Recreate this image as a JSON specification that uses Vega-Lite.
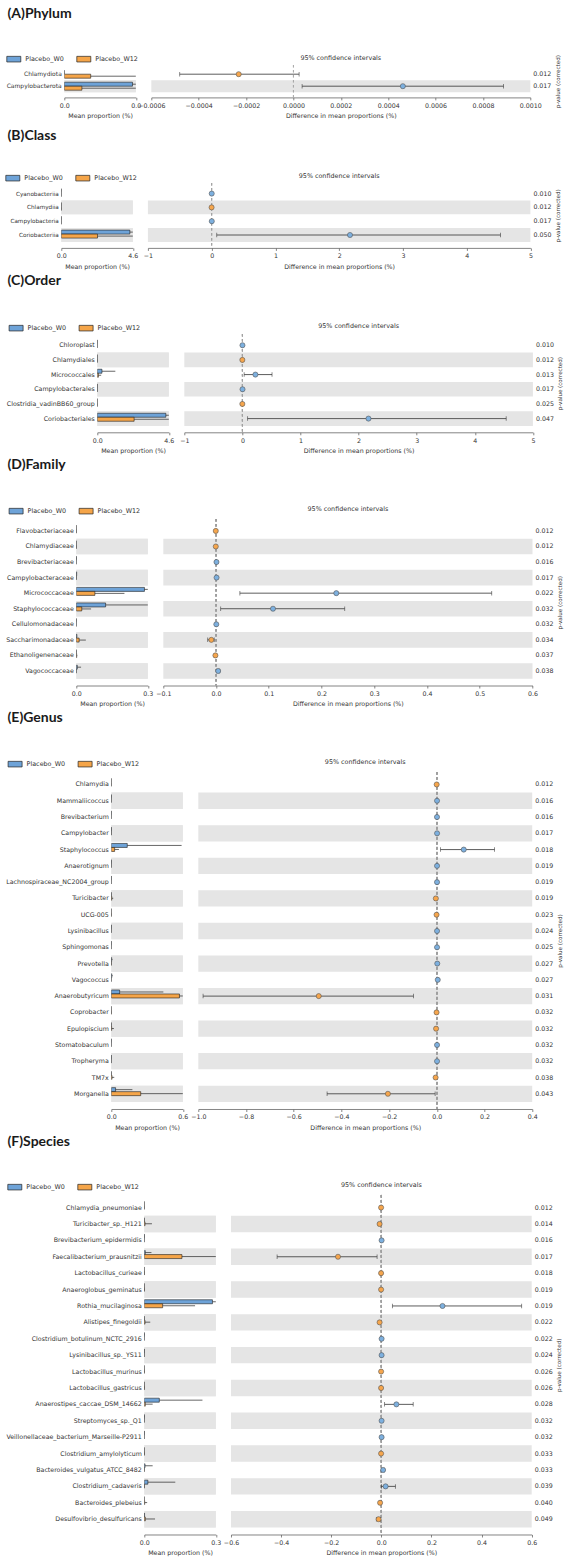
{
"$schema": "https://vega.github.io/schema/vega-lite/v6.json",
"padding": {"left": 3.3, "top": 7, "right": 2, "bottom": 2},
"background": "white",
"config": {
 "font": "DejaVu Sans",
 "view": {"stroke": null},
 "axis": {"labelFont": "DejaVu Sans", "labelFontSize": 6.3, "labelColor": "#333333", "titleFont": "DejaVu Sans", "titleFontSize": 6.3, "titleFontWeight": "normal", "titleColor": "#333333", "domainColor": "#666666", "domainWidth": 0.8, "tickColor": "#666666", "tickWidth": 0.8, "tickSize": 2.5, "labelPadding": 2.4, "titlePadding": 4, "grid": false, "labelFlush": false, "labelOverlap": false},
 "axisLeft": {"ticks": false, "domain": false, "labelPadding": 3},
 "axisRight": {"labels": false, "ticks": false, "domain": false, "titleAngle": 270, "titlePadding": 30, "titleFontSize": 5.6},
 "legend": {"labelFont": "DejaVu Sans", "labelFontSize": 6.4, "labelColor": "#333333", "symbolType": "M-1,-0.4H1V0.4H-1Z", "symbolSize": 196, "symbolStrokeColor": "#222222", "symbolStrokeWidth": 0.7, "labelOffset": 4, "columnPadding": 11, "symbolOpacity": 1},
 "title": {"font": "Lato", "fontSize": 14, "fontWeight": "bold", "anchor": "start", "color": "#1a1a1a", "frame": "bounds", "dx": 3.7}
},
"datasets": {
 "bars": [
  {"panel":"A","feature":"Chlamydiota","rank":1,"group":"Placebo_W0","mean":0,"upper":0},
  {"panel":"A","feature":"Chlamydiota","rank":1,"group":"Placebo_W12","mean":0.00024,"upper":0.001},
  {"panel":"A","feature":"Campylobacterota","rank":2,"group":"Placebo_W0","mean":0.00062,"upper":0.002},
  {"panel":"A","feature":"Campylobacterota","rank":2,"group":"Placebo_W12","mean":0.00016,"upper":0.002},

  {"panel":"B","feature":"Cyanobacteriia","rank":1,"group":"Placebo_W0","mean":0.003,"upper":0.01},
  {"panel":"B","feature":"Cyanobacteriia","rank":1,"group":"Placebo_W12","mean":0,"upper":0},
  {"panel":"B","feature":"Chlamydiia","rank":2,"group":"Placebo_W0","mean":0,"upper":0},
  {"panel":"B","feature":"Chlamydiia","rank":2,"group":"Placebo_W12","mean":0.003,"upper":0.01},
  {"panel":"B","feature":"Campylobacteria","rank":3,"group":"Placebo_W0","mean":0.004,"upper":0.01},
  {"panel":"B","feature":"Campylobacteria","rank":3,"group":"Placebo_W12","mean":0.001,"upper":0.002},
  {"panel":"B","feature":"Coriobacteriia","rank":4,"group":"Placebo_W0","mean":4.41,"upper":9},
  {"panel":"B","feature":"Coriobacteriia","rank":4,"group":"Placebo_W12","mean":2.33,"upper":9},

  {"panel":"C","feature":"Chloroplast","rank":1,"group":"Placebo_W0","mean":0.003,"upper":0.01},
  {"panel":"C","feature":"Chloroplast","rank":1,"group":"Placebo_W12","mean":0,"upper":0},
  {"panel":"C","feature":"Chlamydiales","rank":2,"group":"Placebo_W0","mean":0,"upper":0},
  {"panel":"C","feature":"Chlamydiales","rank":2,"group":"Placebo_W12","mean":0.003,"upper":0.01},
  {"panel":"C","feature":"Micrococcales","rank":3,"group":"Placebo_W0","mean":0.30,"upper":1.16},
  {"panel":"C","feature":"Micrococcales","rank":3,"group":"Placebo_W12","mean":0.07,"upper":0.25},
  {"panel":"C","feature":"Campylobacterales","rank":4,"group":"Placebo_W0","mean":0.004,"upper":0.01},
  {"panel":"C","feature":"Campylobacterales","rank":4,"group":"Placebo_W12","mean":0.001,"upper":0.002},
  {"panel":"C","feature":"Clostridia_vadinBB60_group","rank":5,"group":"Placebo_W0","mean":0,"upper":0},
  {"panel":"C","feature":"Clostridia_vadinBB60_group","rank":5,"group":"Placebo_W12","mean":0.003,"upper":0.01},
  {"panel":"C","feature":"Coriobacteriales","rank":6,"group":"Placebo_W0","mean":4.41,"upper":9},
  {"panel":"C","feature":"Coriobacteriales","rank":6,"group":"Placebo_W12","mean":2.37,"upper":9},

  {"panel":"D","feature":"Flavobacteriaceae","rank":1,"group":"Placebo_W0","mean":0,"upper":0},
  {"panel":"D","feature":"Flavobacteriaceae","rank":1,"group":"Placebo_W12","mean":0.0005,"upper":0.001},
  {"panel":"D","feature":"Chlamydiaceae","rank":2,"group":"Placebo_W0","mean":0,"upper":0},
  {"panel":"D","feature":"Chlamydiaceae","rank":2,"group":"Placebo_W12","mean":0.0005,"upper":0.001},
  {"panel":"D","feature":"Brevibacteriaceae","rank":3,"group":"Placebo_W0","mean":0.0008,"upper":0.002},
  {"panel":"D","feature":"Brevibacteriaceae","rank":3,"group":"Placebo_W12","mean":0,"upper":0},
  {"panel":"D","feature":"Campylobacteraceae","rank":4,"group":"Placebo_W0","mean":0.0015,"upper":0.003},
  {"panel":"D","feature":"Campylobacteraceae","rank":4,"group":"Placebo_W12","mean":0.0004,"upper":0.001},
  {"panel":"D","feature":"Micrococcaceae","rank":5,"group":"Placebo_W0","mean":0.286,"upper":0.6},
  {"panel":"D","feature":"Micrococcaceae","rank":5,"group":"Placebo_W12","mean":0.078,"upper":0.202},
  {"panel":"D","feature":"Staphylococcaceae","rank":6,"group":"Placebo_W0","mean":0.123,"upper":0.6},
  {"panel":"D","feature":"Staphylococcaceae","rank":6,"group":"Placebo_W12","mean":0.023,"upper":0.062},
  {"panel":"D","feature":"Cellulomonadaceae","rank":7,"group":"Placebo_W0","mean":0.0005,"upper":0.001},
  {"panel":"D","feature":"Cellulomonadaceae","rank":7,"group":"Placebo_W12","mean":0,"upper":0},
  {"panel":"D","feature":"Saccharimonadaceae","rank":8,"group":"Placebo_W0","mean":0.002,"upper":0.004},
  {"panel":"D","feature":"Saccharimonadaceae","rank":8,"group":"Placebo_W12","mean":0.012,"upper":0.04},
  {"panel":"D","feature":"Ethanoligenenaceae","rank":9,"group":"Placebo_W0","mean":0.0003,"upper":0.001},
  {"panel":"D","feature":"Ethanoligenenaceae","rank":9,"group":"Placebo_W12","mean":0.0015,"upper":0.004},
  {"panel":"D","feature":"Vagococcaceae","rank":10,"group":"Placebo_W0","mean":0.004,"upper":0.02},
  {"panel":"D","feature":"Vagococcaceae","rank":10,"group":"Placebo_W12","mean":0,"upper":0},

  {"panel":"E","feature":"Chlamydia","rank":1,"group":"Placebo_W0","mean":0,"upper":0},
  {"panel":"E","feature":"Chlamydia","rank":1,"group":"Placebo_W12","mean":0.0005,"upper":0.001},
  {"panel":"E","feature":"Mammaliicoccus","rank":2,"group":"Placebo_W0","mean":0.001,"upper":0.002},
  {"panel":"E","feature":"Mammaliicoccus","rank":2,"group":"Placebo_W12","mean":0,"upper":0},
  {"panel":"E","feature":"Brevibacterium","rank":3,"group":"Placebo_W0","mean":0.0008,"upper":0.002},
  {"panel":"E","feature":"Brevibacterium","rank":3,"group":"Placebo_W12","mean":0,"upper":0},
  {"panel":"E","feature":"Campylobacter","rank":4,"group":"Placebo_W0","mean":0.0015,"upper":0.003},
  {"panel":"E","feature":"Campylobacter","rank":4,"group":"Placebo_W12","mean":0.0003,"upper":0.001},
  {"panel":"E","feature":"Staphylococcus","rank":5,"group":"Placebo_W0","mean":0.134,"upper":0.59},
  {"panel":"E","feature":"Staphylococcus","rank":5,"group":"Placebo_W12","mean":0.028,"upper":0.064},
  {"panel":"E","feature":"Anaerotignum","rank":6,"group":"Placebo_W0","mean":0.001,"upper":0.002},
  {"panel":"E","feature":"Anaerotignum","rank":6,"group":"Placebo_W12","mean":0,"upper":0},
  {"panel":"E","feature":"Lachnospiraceae_NC2004_group","rank":7,"group":"Placebo_W0","mean":0.001,"upper":0.002},
  {"panel":"E","feature":"Lachnospiraceae_NC2004_group","rank":7,"group":"Placebo_W12","mean":0,"upper":0},
  {"panel":"E","feature":"Turicibacter","rank":8,"group":"Placebo_W0","mean":0.0005,"upper":0.001},
  {"panel":"E","feature":"Turicibacter","rank":8,"group":"Placebo_W12","mean":0.004,"upper":0.016},
  {"panel":"E","feature":"UCG-005","rank":9,"group":"Placebo_W0","mean":0,"upper":0},
  {"panel":"E","feature":"UCG-005","rank":9,"group":"Placebo_W12","mean":0.001,"upper":0.002},
  {"panel":"E","feature":"Lysinibacillus","rank":10,"group":"Placebo_W0","mean":0.001,"upper":0.002},
  {"panel":"E","feature":"Lysinibacillus","rank":10,"group":"Placebo_W12","mean":0,"upper":0},
  {"panel":"E","feature":"Sphingomonas","rank":11,"group":"Placebo_W0","mean":0.001,"upper":0.002},
  {"panel":"E","feature":"Sphingomonas","rank":11,"group":"Placebo_W12","mean":0,"upper":0},
  {"panel":"E","feature":"Prevotella","rank":12,"group":"Placebo_W0","mean":0.003,"upper":0.01},
  {"panel":"E","feature":"Prevotella","rank":12,"group":"Placebo_W12","mean":0.001,"upper":0.002},
  {"panel":"E","feature":"Vagococcus","rank":13,"group":"Placebo_W0","mean":0.004,"upper":0.012},
  {"panel":"E","feature":"Vagococcus","rank":13,"group":"Placebo_W12","mean":0,"upper":0},
  {"panel":"E","feature":"Anaerobutyricum","rank":14,"group":"Placebo_W0","mean":0.07,"upper":0.437},
  {"panel":"E","feature":"Anaerobutyricum","rank":14,"group":"Placebo_W12","mean":0.572,"upper":0.7},
  {"panel":"E","feature":"Coprobacter","rank":15,"group":"Placebo_W0","mean":0,"upper":0},
  {"panel":"E","feature":"Coprobacter","rank":15,"group":"Placebo_W12","mean":0.001,"upper":0.002},
  {"panel":"E","feature":"Epulopiscium","rank":16,"group":"Placebo_W0","mean":0.0005,"upper":0.001},
  {"panel":"E","feature":"Epulopiscium","rank":16,"group":"Placebo_W12","mean":0.003,"upper":0.022},
  {"panel":"E","feature":"Stomatobaculum","rank":17,"group":"Placebo_W0","mean":0.001,"upper":0.002},
  {"panel":"E","feature":"Stomatobaculum","rank":17,"group":"Placebo_W12","mean":0,"upper":0},
  {"panel":"E","feature":"Tropheryma","rank":18,"group":"Placebo_W0","mean":0.001,"upper":0.002},
  {"panel":"E","feature":"Tropheryma","rank":18,"group":"Placebo_W12","mean":0,"upper":0},
  {"panel":"E","feature":"TM7x","rank":19,"group":"Placebo_W0","mean":0.001,"upper":0.002},
  {"panel":"E","feature":"TM7x","rank":19,"group":"Placebo_W12","mean":0.006,"upper":0.025},
  {"panel":"E","feature":"Morganella","rank":20,"group":"Placebo_W0","mean":0.036,"upper":0.177},
  {"panel":"E","feature":"Morganella","rank":20,"group":"Placebo_W12","mean":0.247,"upper":0.7},

  {"panel":"F","feature":"Chlamydia_pneumoniae","rank":1,"group":"Placebo_W0","mean":0,"upper":0},
  {"panel":"F","feature":"Chlamydia_pneumoniae","rank":1,"group":"Placebo_W12","mean":0.0005,"upper":0.001},
  {"panel":"F","feature":"Turicibacter_sp._H121","rank":2,"group":"Placebo_W0","mean":0.0003,"upper":0.001},
  {"panel":"F","feature":"Turicibacter_sp._H121","rank":2,"group":"Placebo_W12","mean":0.003,"upper":0.032},
  {"panel":"F","feature":"Brevibacterium_epidermidis","rank":3,"group":"Placebo_W0","mean":0.0008,"upper":0.002},
  {"panel":"F","feature":"Brevibacterium_epidermidis","rank":3,"group":"Placebo_W12","mean":0,"upper":0},
  {"panel":"F","feature":"Faecalibacterium_prausnitzii","rank":4,"group":"Placebo_W0","mean":0.004,"upper":0.03},
  {"panel":"F","feature":"Faecalibacterium_prausnitzii","rank":4,"group":"Placebo_W12","mean":0.158,"upper":0.5},
  {"panel":"F","feature":"Lactobacillus_curieae","rank":5,"group":"Placebo_W0","mean":0,"upper":0},
  {"panel":"F","feature":"Lactobacillus_curieae","rank":5,"group":"Placebo_W12","mean":0.0008,"upper":0.002},
  {"panel":"F","feature":"Anaeroglobus_geminatus","rank":6,"group":"Placebo_W0","mean":0,"upper":0},
  {"panel":"F","feature":"Anaeroglobus_geminatus","rank":6,"group":"Placebo_W12","mean":0.0008,"upper":0.002},
  {"panel":"F","feature":"Rothia_mucilaginosa","rank":7,"group":"Placebo_W0","mean":0.286,"upper":0.5},
  {"panel":"F","feature":"Rothia_mucilaginosa","rank":7,"group":"Placebo_W12","mean":0.077,"upper":0.213},
  {"panel":"F","feature":"Alistipes_finegoldii","rank":8,"group":"Placebo_W0","mean":0.0003,"upper":0.001},
  {"panel":"F","feature":"Alistipes_finegoldii","rank":8,"group":"Placebo_W12","mean":0.003,"upper":0.025},
  {"panel":"F","feature":"Clostridium_botulinum_NCTC_2916","rank":9,"group":"Placebo_W0","mean":0.0008,"upper":0.002},
  {"panel":"F","feature":"Clostridium_botulinum_NCTC_2916","rank":9,"group":"Placebo_W12","mean":0,"upper":0},
  {"panel":"F","feature":"Lysinibacillus_sp._YS11","rank":10,"group":"Placebo_W0","mean":0.0008,"upper":0.002},
  {"panel":"F","feature":"Lysinibacillus_sp._YS11","rank":10,"group":"Placebo_W12","mean":0,"upper":0},
  {"panel":"F","feature":"Lactobacillus_murinus","rank":11,"group":"Placebo_W0","mean":0,"upper":0},
  {"panel":"F","feature":"Lactobacillus_murinus","rank":11,"group":"Placebo_W12","mean":0.0008,"upper":0.002},
  {"panel":"F","feature":"Lactobacillus_gastricus","rank":12,"group":"Placebo_W0","mean":0,"upper":0},
  {"panel":"F","feature":"Lactobacillus_gastricus","rank":12,"group":"Placebo_W12","mean":0.0008,"upper":0.002},
  {"panel":"F","feature":"Anaerostipes_caccae_DSM_14662","rank":13,"group":"Placebo_W0","mean":0.063,"upper":0.244},
  {"panel":"F","feature":"Anaerostipes_caccae_DSM_14662","rank":13,"group":"Placebo_W12","mean":0.004,"upper":0.035},
  {"panel":"F","feature":"Streptomyces_sp._Q1","rank":14,"group":"Placebo_W0","mean":0.0008,"upper":0.002},
  {"panel":"F","feature":"Streptomyces_sp._Q1","rank":14,"group":"Placebo_W12","mean":0,"upper":0},
  {"panel":"F","feature":"Veillonellaceae_bacterium_Marseille-P2911","rank":15,"group":"Placebo_W0","mean":0.0008,"upper":0.002},
  {"panel":"F","feature":"Veillonellaceae_bacterium_Marseille-P2911","rank":15,"group":"Placebo_W12","mean":0,"upper":0},
  {"panel":"F","feature":"Clostridium_amylolyticum","rank":16,"group":"Placebo_W0","mean":0,"upper":0},
  {"panel":"F","feature":"Clostridium_amylolyticum","rank":16,"group":"Placebo_W12","mean":0.0008,"upper":0.002},
  {"panel":"F","feature":"Bacteroides_vulgatus_ATCC_8482","rank":17,"group":"Placebo_W0","mean":0.003,"upper":0.035},
  {"panel":"F","feature":"Bacteroides_vulgatus_ATCC_8482","rank":17,"group":"Placebo_W12","mean":0.0003,"upper":0.001},
  {"panel":"F","feature":"Clostridium_cadaveris","rank":18,"group":"Placebo_W0","mean":0.015,"upper":0.13},
  {"panel":"F","feature":"Clostridium_cadaveris","rank":18,"group":"Placebo_W12","mean":0.0005,"upper":0.001},
  {"panel":"F","feature":"Bacteroides_plebeius","rank":19,"group":"Placebo_W0","mean":0,"upper":0},
  {"panel":"F","feature":"Bacteroides_plebeius","rank":19,"group":"Placebo_W12","mean":0.0015,"upper":0.012},
  {"panel":"F","feature":"Desulfovibrio_desulfuricans","rank":20,"group":"Placebo_W0","mean":0.001,"upper":0.002},
  {"panel":"F","feature":"Desulfovibrio_desulfuricans","rank":20,"group":"Placebo_W12","mean":0.004,"upper":0.045}
 ],
 "ci": [
  {"panel":"A","feature":"Chlamydiota","rank":1,"diff":-0.000231,"lo":-0.00048,"hi":0.000024,"higher":"Placebo_W12","p":"0.012"},
  {"panel":"A","feature":"Campylobacterota","rank":2,"diff":0.000462,"lo":0.0000366,"hi":0.000887,"higher":"Placebo_W0","p":"0.017"},

  {"panel":"B","feature":"Cyanobacteriia","rank":1,"diff":0.001,"lo":0.0005,"hi":0.002,"higher":"Placebo_W0","p":"0.010"},
  {"panel":"B","feature":"Chlamydiia","rank":2,"diff":-0.001,"lo":-0.002,"hi":-0.0005,"higher":"Placebo_W12","p":"0.012"},
  {"panel":"B","feature":"Campylobacteria","rank":3,"diff":0.002,"lo":0.001,"hi":0.004,"higher":"Placebo_W0","p":"0.017"},
  {"panel":"B","feature":"Coriobacteriia","rank":4,"diff":2.17,"lo":0.08,"hi":4.53,"higher":"Placebo_W0","p":"0.050"},

  {"panel":"C","feature":"Chloroplast","rank":1,"diff":0.001,"lo":0.0005,"hi":0.002,"higher":"Placebo_W0","p":"0.010"},
  {"panel":"C","feature":"Chlamydiales","rank":2,"diff":-0.001,"lo":-0.002,"hi":-0.0005,"higher":"Placebo_W12","p":"0.012"},
  {"panel":"C","feature":"Micrococcales","rank":3,"diff":0.224,"lo":0.03,"hi":0.51,"higher":"Placebo_W0","p":"0.013"},
  {"panel":"C","feature":"Campylobacterales","rank":4,"diff":0.002,"lo":0.001,"hi":0.004,"higher":"Placebo_W0","p":"0.017"},
  {"panel":"C","feature":"Clostridia_vadinBB60_group","rank":5,"diff":-0.001,"lo":-0.002,"hi":-0.0005,"higher":"Placebo_W12","p":"0.025"},
  {"panel":"C","feature":"Coriobacteriales","rank":6,"diff":2.17,"lo":0.09,"hi":4.54,"higher":"Placebo_W0","p":"0.047"},

  {"panel":"D","feature":"Flavobacteriaceae","rank":1,"diff":-0.0005,"lo":-0.001,"hi":0,"higher":"Placebo_W12","p":"0.012"},
  {"panel":"D","feature":"Chlamydiaceae","rank":2,"diff":-0.0005,"lo":-0.001,"hi":0,"higher":"Placebo_W12","p":"0.012"},
  {"panel":"D","feature":"Brevibacteriaceae","rank":3,"diff":0.0008,"lo":0.0003,"hi":0.0013,"higher":"Placebo_W0","p":"0.016"},
  {"panel":"D","feature":"Campylobacteraceae","rank":4,"diff":0.001,"lo":0.0003,"hi":0.002,"higher":"Placebo_W0","p":"0.017"},
  {"panel":"D","feature":"Micrococcaceae","rank":5,"diff":0.228,"lo":0.0452,"hi":0.5227,"higher":"Placebo_W0","p":"0.022"},
  {"panel":"D","feature":"Staphylococcaceae","rank":6,"diff":0.108,"lo":0.0088,"hi":0.244,"higher":"Placebo_W0","p":"0.032"},
  {"panel":"D","feature":"Cellulomonadaceae","rank":7,"diff":0.0005,"lo":0.0002,"hi":0.001,"higher":"Placebo_W0","p":"0.032"},
  {"panel":"D","feature":"Saccharimonadaceae","rank":8,"diff":-0.0089,"lo":-0.0158,"hi":-0.0034,"higher":"Placebo_W12","p":"0.034"},
  {"panel":"D","feature":"Ethanoligenenaceae","rank":9,"diff":-0.0012,"lo":-0.003,"hi":-0.0003,"higher":"Placebo_W12","p":"0.037"},
  {"panel":"D","feature":"Vagococcaceae","rank":10,"diff":0.004,"lo":0.001,"hi":0.007,"higher":"Placebo_W0","p":"0.038"},

  {"panel":"E","feature":"Chlamydia","rank":1,"diff":-0.0005,"lo":-0.001,"hi":0,"higher":"Placebo_W12","p":"0.012"},
  {"panel":"E","feature":"Mammaliicoccus","rank":2,"diff":0.001,"lo":0.0005,"hi":0.0015,"higher":"Placebo_W0","p":"0.016"},
  {"panel":"E","feature":"Brevibacterium","rank":3,"diff":0.0008,"lo":0.0003,"hi":0.0013,"higher":"Placebo_W0","p":"0.016"},
  {"panel":"E","feature":"Campylobacter","rank":4,"diff":0.0012,"lo":0.0005,"hi":0.002,"higher":"Placebo_W0","p":"0.017"},
  {"panel":"E","feature":"Staphylococcus","rank":5,"diff":0.113,"lo":0.0155,"hi":0.242,"higher":"Placebo_W0","p":"0.018"},
  {"panel":"E","feature":"Anaerotignum","rank":6,"diff":0.001,"lo":0.0005,"hi":0.0015,"higher":"Placebo_W0","p":"0.019"},
  {"panel":"E","feature":"Lachnospiraceae_NC2004_group","rank":7,"diff":0.001,"lo":0.0005,"hi":0.0015,"higher":"Placebo_W0","p":"0.019"},
  {"panel":"E","feature":"Turicibacter","rank":8,"diff":-0.004,"lo":-0.008,"hi":-0.001,"higher":"Placebo_W12","p":"0.019"},
  {"panel":"E","feature":"UCG-005","rank":9,"diff":-0.001,"lo":-0.002,"hi":-0.0003,"higher":"Placebo_W12","p":"0.023"},
  {"panel":"E","feature":"Lysinibacillus","rank":10,"diff":0.001,"lo":0.0005,"hi":0.0015,"higher":"Placebo_W0","p":"0.024"},
  {"panel":"E","feature":"Sphingomonas","rank":11,"diff":0.001,"lo":0.0005,"hi":0.0015,"higher":"Placebo_W0","p":"0.025"},
  {"panel":"E","feature":"Prevotella","rank":12,"diff":0.002,"lo":0.0005,"hi":0.004,"higher":"Placebo_W0","p":"0.027"},
  {"panel":"E","feature":"Vagococcus","rank":13,"diff":0.004,"lo":0.001,"hi":0.007,"higher":"Placebo_W0","p":"0.027"},
  {"panel":"E","feature":"Anaerobutyricum","rank":14,"diff":-0.495,"lo":-0.98,"hi":-0.098,"higher":"Placebo_W12","p":"0.031"},
  {"panel":"E","feature":"Coprobacter","rank":15,"diff":-0.001,"lo":-0.002,"hi":-0.0003,"higher":"Placebo_W12","p":"0.032"},
  {"panel":"E","feature":"Epulopiscium","rank":16,"diff":-0.003,"lo":-0.006,"hi":-0.0005,"higher":"Placebo_W12","p":"0.032"},
  {"panel":"E","feature":"Stomatobaculum","rank":17,"diff":0.001,"lo":0.0005,"hi":0.0015,"higher":"Placebo_W0","p":"0.032"},
  {"panel":"E","feature":"Tropheryma","rank":18,"diff":0.001,"lo":0.0005,"hi":0.0015,"higher":"Placebo_W0","p":"0.032"},
  {"panel":"E","feature":"TM7x","rank":19,"diff":-0.005,"lo":-0.009,"hi":-0.001,"higher":"Placebo_W12","p":"0.038"},
  {"panel":"E","feature":"Morganella","rank":20,"diff":-0.205,"lo":-0.46,"hi":-0.007,"higher":"Placebo_W12","p":"0.043"},

  {"panel":"F","feature":"Chlamydia_pneumoniae","rank":1,"diff":-0.001,"lo":-0.002,"hi":0,"higher":"Placebo_W12","p":"0.012"},
  {"panel":"F","feature":"Turicibacter_sp._H121","rank":2,"diff":-0.007,"lo":-0.012,"hi":-0.002,"higher":"Placebo_W12","p":"0.014"},
  {"panel":"F","feature":"Brevibacterium_epidermidis","rank":3,"diff":0.001,"lo":0.0005,"hi":0.0015,"higher":"Placebo_W0","p":"0.016"},
  {"panel":"F","feature":"Faecalibacterium_prausnitzii","rank":4,"diff":-0.173,"lo":-0.416,"hi":-0.017,"higher":"Placebo_W12","p":"0.017"},
  {"panel":"F","feature":"Lactobacillus_curieae","rank":5,"diff":-0.001,"lo":-0.002,"hi":0,"higher":"Placebo_W12","p":"0.018"},
  {"panel":"F","feature":"Anaeroglobus_geminatus","rank":6,"diff":-0.001,"lo":-0.002,"hi":0,"higher":"Placebo_W12","p":"0.019"},
  {"panel":"F","feature":"Rothia_mucilaginosa","rank":7,"diff":0.244,"lo":0.044,"hi":0.56,"higher":"Placebo_W0","p":"0.019"},
  {"panel":"F","feature":"Alistipes_finegoldii","rank":8,"diff":-0.007,"lo":-0.01,"hi":-0.003,"higher":"Placebo_W12","p":"0.022"},
  {"panel":"F","feature":"Clostridium_botulinum_NCTC_2916","rank":9,"diff":0.001,"lo":0.0005,"hi":0.0015,"higher":"Placebo_W0","p":"0.022"},
  {"panel":"F","feature":"Lysinibacillus_sp._YS11","rank":10,"diff":0.001,"lo":0.0005,"hi":0.0015,"higher":"Placebo_W0","p":"0.024"},
  {"panel":"F","feature":"Lactobacillus_murinus","rank":11,"diff":-0.001,"lo":-0.002,"hi":0,"higher":"Placebo_W12","p":"0.026"},
  {"panel":"F","feature":"Lactobacillus_gastricus","rank":12,"diff":-0.001,"lo":-0.002,"hi":0,"higher":"Placebo_W12","p":"0.026"},
  {"panel":"F","feature":"Anaerostipes_caccae_DSM_14662","rank":13,"diff":0.06,"lo":0.013,"hi":0.127,"higher":"Placebo_W0","p":"0.028"},
  {"panel":"F","feature":"Streptomyces_sp._Q1","rank":14,"diff":0.001,"lo":0.0005,"hi":0.0015,"higher":"Placebo_W0","p":"0.032"},
  {"panel":"F","feature":"Veillonellaceae_bacterium_Marseille-P2911","rank":15,"diff":0.001,"lo":0.0005,"hi":0.0015,"higher":"Placebo_W0","p":"0.032"},
  {"panel":"F","feature":"Clostridium_amylolyticum","rank":16,"diff":-0.001,"lo":-0.002,"hi":0,"higher":"Placebo_W12","p":"0.033"},
  {"panel":"F","feature":"Bacteroides_vulgatus_ATCC_8482","rank":17,"diff":0.007,"lo":0.002,"hi":0.012,"higher":"Placebo_W0","p":"0.033"},
  {"panel":"F","feature":"Clostridium_cadaveris","rank":18,"diff":0.017,"lo":0.0,"hi":0.056,"higher":"Placebo_W0","p":"0.039"},
  {"panel":"F","feature":"Bacteroides_plebeius","rank":19,"diff":-0.005,"lo":-0.008,"hi":-0.002,"higher":"Placebo_W12","p":"0.040"},
  {"panel":"F","feature":"Desulfovibrio_desulfuricans","rank":20,"diff":-0.011,"lo":-0.02,"hi":-0.003,"higher":"Placebo_W12","p":"0.049"}
 ]
},
"spacing": 4,
"resolve": {"scale": {"x": "independent", "y": "independent", "color": "independent"}, "legend": {"color": "independent"}, "axis": {"x": "independent", "y": "independent"}},
"vconcat": [
 {
  "title": {"text": "(A)Phylum", "offset": 30.5},
  "spacing": 0,
  "resolve": {"scale": {"x": "independent", "y": "independent", "color": "independent"}, "legend": {"color": "independent"}, "axis": {"x": "independent", "y": "independent"}},
  "hconcat": [
   {"width": 1, "height": 60, "data": {"values": [{}]}, "mark": {"type": "rule", "opacity": 0}, "encoding": {}},
   {
  "spacing": -4,
  "resolve": {"scale": {"x": "independent", "y": "independent", "color": "independent"}, "legend": {"color": "independent"}, "axis": {"x": "independent", "y": "independent"}},
  "hconcat": [
   {
    "width": 71.5, "height": 32.4,
    "data": {"name": "bars"},
    "transform": [{"filter": "datum.panel == 'A'"}],
    "layer": [
     {"mark": {"type": "rect", "color": "#e5e5e5"},
      "encoding": {
       "y": {"field": "feature", "type": "nominal", "sort": null, "scale": {"paddingInner": 0, "paddingOuter": 0.35, "align": 0.38}, "axis": {"title": null, "labelFontSize": 6.0}},
       "x": {"datum": 0, "type": "quantitative", "scale": {"domain": [0, 0.00065], "nice": false}, "axis": {"values": [0, 0.00065], "format": ".1f", "title": "Mean proportion (%)"}},
       "x2": {"datum": 0.00065},
       "opacity": {"condition": {"test": "datum.rank % 2 == 0", "value": 1}, "value": 0}}},
     {"mark": {"type": "bar", "stroke": "#1f1f1f", "strokeWidth": 0.6, "clip": true},
      "encoding": {
       "y": {"field": "feature", "type": "nominal", "sort": null, "scale": {"paddingInner": 0, "paddingOuter": 0.35, "align": 0.38}, "axis": {"title": null, "labelFontSize": 6.0}},
       "yOffset": {"field": "group", "type": "nominal", "scale": {"paddingInner": 0, "paddingOuter": 0.5}},
       "x": {"field": "mean", "type": "quantitative", "scale": {"domain": [0, 0.00065], "nice": false}, "axis": {"values": [0, 0.00065], "format": ".1f", "title": "Mean proportion (%)"}},
       "color": {"field": "group", "type": "nominal", "scale": {"domain": ["Placebo_W0", "Placebo_W12"], "range": ["#6ea3d8", "#f5a549"]}, "legend": {"title": null, "orient": "none", "direction": "horizontal", "legendX": -58, "legendY": -13.5}}}},
     {"mark": {"type": "rule", "color": "#262626", "strokeWidth": 0.7, "clip": true},
      "encoding": {
       "y": {"field": "feature", "type": "nominal", "sort": null, "scale": {"paddingInner": 0, "paddingOuter": 0.35, "align": 0.38}, "axis": {"title": null, "labelFontSize": 6.0}},
       "yOffset": {"field": "group", "type": "nominal", "scale": {"paddingInner": 0, "paddingOuter": 0.5}},
       "x": {"field": "mean", "type": "quantitative", "scale": {"domain": [0, 0.00065], "nice": false}, "axis": {"values": [0, 0.00065], "format": ".1f", "title": "Mean proportion (%)"}},
       "x2": {"field": "upper"}}}
    ]
   },
   {
    "width": 379, "height": 32.4,
    "data": {"name": "ci"},
    "transform": [{"filter": "datum.panel == 'A'"}],
    "title": {"text": "95% confidence intervals", "font": "DejaVu Sans", "fontSize": 6.4, "fontWeight": "normal", "anchor": "middle", "frame": "group", "offset": -6.7, "dx": 0, "color": "#333333"},
    "layer": [
     {"mark": {"type": "rect", "color": "#e5e5e5"},
      "encoding": {
       "y": {"field": "feature", "type": "nominal", "sort": null, "scale": {"paddingInner": 0, "paddingOuter": 0.35, "align": 0.38}, "axis": {"orient": "right", "title": "p-value (corrected)"}},
       "x": {"datum": -0.0006, "type": "quantitative", "scale": {"domain": [-0.0006, 0.001], "nice": false, "zero": false}, "axis": {"values": [-0.0006, -0.0004, -0.0002, 0, 0.0002, 0.0004, 0.0006, 0.0008, 0.001], "format": ".4f", "title": "Difference in mean proportions (%)"}},
       "x2": {"datum": 0.001},
       "opacity": {"condition": {"test": "datum.rank % 2 == 0", "value": 1}, "value": 0}}},
     {"mark": {"type": "rule", "color": "#a0a0a0", "strokeWidth": 0.7, "strokeDash": [2.5, 2.5]},
      "encoding": {
       "x": {"datum": 0, "type": "quantitative", "scale": {"domain": [-0.0006, 0.001], "nice": false, "zero": false}, "axis": {"values": [-0.0006, -0.0004, -0.0002, 0, 0.0002, 0.0004, 0.0006, 0.0008, 0.001], "format": ".4f", "title": "Difference in mean proportions (%)"}}}},
     {"mark": {"type": "rule", "color": "#333333", "strokeWidth": 0.8},
      "encoding": {
       "y": {"field": "feature", "type": "nominal", "sort": null, "scale": {"paddingInner": 0, "paddingOuter": 0.35, "align": 0.38}, "axis": {"orient": "right", "title": "p-value (corrected)"}},
       "x": {"field": "lo", "type": "quantitative", "scale": {"domain": [-0.0006, 0.001], "nice": false, "zero": false}, "axis": {"values": [-0.0006, -0.0004, -0.0002, 0, 0.0002, 0.0004, 0.0006, 0.0008, 0.001], "format": ".4f", "title": "Difference in mean proportions (%)"}},
       "x2": {"field": "hi"}}},
     {"mark": {"type": "tick", "color": "#333333", "thickness": 0.8, "size": 4.5},
      "encoding": {
       "y": {"field": "feature", "type": "nominal", "sort": null, "scale": {"paddingInner": 0, "paddingOuter": 0.35, "align": 0.38}, "axis": {"orient": "right", "title": "p-value (corrected)"}},
       "x": {"field": "lo", "type": "quantitative", "scale": {"domain": [-0.0006, 0.001], "nice": false, "zero": false}, "axis": {"values": [-0.0006, -0.0004, -0.0002, 0, 0.0002, 0.0004, 0.0006, 0.0008, 0.001], "format": ".4f", "title": "Difference in mean proportions (%)"}}}},
     {"mark": {"type": "tick", "color": "#333333", "thickness": 0.8, "size": 4.5},
      "encoding": {
       "y": {"field": "feature", "type": "nominal", "sort": null, "scale": {"paddingInner": 0, "paddingOuter": 0.35, "align": 0.38}, "axis": {"orient": "right", "title": "p-value (corrected)"}},
       "x": {"field": "hi", "type": "quantitative", "scale": {"domain": [-0.0006, 0.001], "nice": false, "zero": false}, "axis": {"values": [-0.0006, -0.0004, -0.0002, 0, 0.0002, 0.0004, 0.0006, 0.0008, 0.001], "format": ".4f", "title": "Difference in mean proportions (%)"}}}},
     {"mark": {"type": "circle", "size": 26, "stroke": "#555555", "strokeWidth": 0.6, "opacity": 1},
      "encoding": {
       "y": {"field": "feature", "type": "nominal", "sort": null, "scale": {"paddingInner": 0, "paddingOuter": 0.35, "align": 0.38}, "axis": {"orient": "right", "title": "p-value (corrected)"}},
       "x": {"field": "diff", "type": "quantitative", "scale": {"domain": [-0.0006, 0.001], "nice": false, "zero": false}, "axis": {"values": [-0.0006, -0.0004, -0.0002, 0, 0.0002, 0.0004, 0.0006, 0.0008, 0.001], "format": ".4f", "title": "Difference in mean proportions (%)"}},
       "color": {"field": "higher", "type": "nominal", "scale": {"domain": ["Placebo_W0", "Placebo_W12"], "range": ["#7db0df", "#f6a64d"]}, "legend": null}}},
     {"mark": {"type": "text", "align": "left", "dx": 3, "fontSize": 6.3, "color": "#333333", "font": "DejaVu Sans"},
      "encoding": {
       "y": {"field": "feature", "type": "nominal", "sort": null, "scale": {"paddingInner": 0, "paddingOuter": 0.35, "align": 0.38}, "axis": {"orient": "right", "title": "p-value (corrected)"}},
       "x": {"datum": 0.001, "type": "quantitative", "scale": {"domain": [-0.0006, 0.001], "nice": false, "zero": false}, "axis": {"values": [-0.0006, -0.0004, -0.0002, 0, 0.0002, 0.0004, 0.0006, 0.0008, 0.001], "format": ".4f", "title": "Difference in mean proportions (%)"}},
       "text": {"field": "p", "type": "nominal"}}}
    ]
   }
  ]
   }
  ]
 },
 {
  "title": {"text": "(B)Class", "offset": 27.5},
  "spacing": 0,
  "resolve": {"scale": {"x": "independent", "y": "independent", "color": "independent"}, "legend": {"color": "independent"}, "axis": {"x": "independent", "y": "independent"}},
  "hconcat": [
   {"width": 1, "height": 1, "data": {"values": [{}]}, "mark": {"type": "rule", "opacity": 0}, "encoding": {}},
   {
  "spacing": 4.6,
  "resolve": {"scale": {"x": "independent", "y": "independent", "color": "independent"}, "legend": {"color": "independent"}, "axis": {"x": "independent", "y": "independent"}},
  "hconcat": [
   {
    "width": 71.5, "height": 64.9,
    "data": {"name": "bars"},
    "transform": [{"filter": "datum.panel == 'B'"}],
    "layer": [
     {"mark": {"type": "rect", "color": "#e5e5e5"},
      "encoding": {
       "y": {"field": "feature", "type": "nominal", "sort": null, "scale": {"paddingInner": 0, "paddingOuter": 0.35, "align": 0.38}, "axis": {"title": null, "labelFontSize": 5.7}},
       "x": {"datum": 0, "type": "quantitative", "scale": {"domain": [0, 4.6], "nice": false}, "axis": {"values": [0, 4.6], "format": ".1f", "title": "Mean proportion (%)"}},
       "x2": {"datum": 4.6},
       "opacity": {"condition": {"test": "datum.rank % 2 == 0", "value": 1}, "value": 0}}},
     {"mark": {"type": "bar", "stroke": "#1f1f1f", "strokeWidth": 0.6, "clip": true},
      "encoding": {
       "y": {"field": "feature", "type": "nominal", "sort": null, "scale": {"paddingInner": 0, "paddingOuter": 0.35, "align": 0.38}, "axis": {"title": null, "labelFontSize": 5.7}},
       "yOffset": {"field": "group", "type": "nominal", "scale": {"paddingInner": 0, "paddingOuter": 0.5}},
       "x": {"field": "mean", "type": "quantitative", "scale": {"domain": [0, 4.6], "nice": false}, "axis": {"values": [0, 4.6], "format": ".1f", "title": "Mean proportion (%)"}},
       "color": {"field": "group", "type": "nominal", "scale": {"domain": ["Placebo_W0", "Placebo_W12"], "range": ["#6ea3d8", "#f5a549"]}, "legend": {"title": null, "orient": "none", "direction": "horizontal", "legendX": -56, "legendY": -12.5}}}},
     {"mark": {"type": "rule", "color": "#262626", "strokeWidth": 0.7, "clip": true},
      "encoding": {
       "y": {"field": "feature", "type": "nominal", "sort": null, "scale": {"paddingInner": 0, "paddingOuter": 0.35, "align": 0.38}, "axis": {"title": null, "labelFontSize": 5.7}},
       "yOffset": {"field": "group", "type": "nominal", "scale": {"paddingInner": 0, "paddingOuter": 0.5}},
       "x": {"field": "mean", "type": "quantitative", "scale": {"domain": [0, 4.6], "nice": false}, "axis": {"values": [0, 4.6], "format": ".1f", "title": "Mean proportion (%)"}},
       "x2": {"field": "upper"}}}
    ]
   },
   {
    "width": 382.5, "height": 64.9,
    "data": {"name": "ci"},
    "transform": [{"filter": "datum.panel == 'B'"}],
    "title": {"text": "95% confidence intervals", "font": "DejaVu Sans", "fontSize": 6.4, "fontWeight": "normal", "anchor": "middle", "frame": "group", "offset": 3, "dx": 0, "color": "#333333"},
    "layer": [
     {"mark": {"type": "rect", "color": "#e5e5e5"},
      "encoding": {
       "y": {"field": "feature", "type": "nominal", "sort": null, "scale": {"paddingInner": 0, "paddingOuter": 0.35, "align": 0.38}, "axis": {"orient": "right", "title": "p-value (corrected)"}},
       "x": {"datum": -1, "type": "quantitative", "scale": {"domain": [-1, 5], "nice": false, "zero": false}, "axis": {"values": [-1, 0, 1, 2, 3, 4, 5], "format": "d", "title": "Difference in mean proportions (%)"}},
       "x2": {"datum": 5},
       "opacity": {"condition": {"test": "datum.rank % 2 == 0", "value": 1}, "value": 0}}},
     {"mark": {"type": "rule", "color": "#a0a0a0", "strokeWidth": 0.7, "strokeDash": [2.5, 2.5]},
      "encoding": {
       "x": {"datum": 0, "type": "quantitative", "scale": {"domain": [-1, 5], "nice": false, "zero": false}, "axis": {"values": [-1, 0, 1, 2, 3, 4, 5], "format": "d", "title": "Difference in mean proportions (%)"}}}},
     {"mark": {"type": "rule", "color": "#333333", "strokeWidth": 0.8},
      "encoding": {
       "y": {"field": "feature", "type": "nominal", "sort": null, "scale": {"paddingInner": 0, "paddingOuter": 0.35, "align": 0.38}, "axis": {"orient": "right", "title": "p-value (corrected)"}},
       "x": {"field": "lo", "type": "quantitative", "scale": {"domain": [-1, 5], "nice": false, "zero": false}, "axis": {"values": [-1, 0, 1, 2, 3, 4, 5], "format": "d", "title": "Difference in mean proportions (%)"}},
       "x2": {"field": "hi"}}},
     {"mark": {"type": "tick", "color": "#333333", "thickness": 0.8, "size": 4.5},
      "encoding": {
       "y": {"field": "feature", "type": "nominal", "sort": null, "scale": {"paddingInner": 0, "paddingOuter": 0.35, "align": 0.38}, "axis": {"orient": "right", "title": "p-value (corrected)"}},
       "x": {"field": "lo", "type": "quantitative", "scale": {"domain": [-1, 5], "nice": false, "zero": false}, "axis": {"values": [-1, 0, 1, 2, 3, 4, 5], "format": "d", "title": "Difference in mean proportions (%)"}}}},
     {"mark": {"type": "tick", "color": "#333333", "thickness": 0.8, "size": 4.5},
      "encoding": {
       "y": {"field": "feature", "type": "nominal", "sort": null, "scale": {"paddingInner": 0, "paddingOuter": 0.35, "align": 0.38}, "axis": {"orient": "right", "title": "p-value (corrected)"}},
       "x": {"field": "hi", "type": "quantitative", "scale": {"domain": [-1, 5], "nice": false, "zero": false}, "axis": {"values": [-1, 0, 1, 2, 3, 4, 5], "format": "d", "title": "Difference in mean proportions (%)"}}}},
     {"mark": {"type": "circle", "size": 26, "stroke": "#555555", "strokeWidth": 0.6, "opacity": 1},
      "encoding": {
       "y": {"field": "feature", "type": "nominal", "sort": null, "scale": {"paddingInner": 0, "paddingOuter": 0.35, "align": 0.38}, "axis": {"orient": "right", "title": "p-value (corrected)"}},
       "x": {"field": "diff", "type": "quantitative", "scale": {"domain": [-1, 5], "nice": false, "zero": false}, "axis": {"values": [-1, 0, 1, 2, 3, 4, 5], "format": "d", "title": "Difference in mean proportions (%)"}},
       "color": {"field": "higher", "type": "nominal", "scale": {"domain": ["Placebo_W0", "Placebo_W12"], "range": ["#7db0df", "#f6a64d"]}, "legend": null}}},
     {"mark": {"type": "text", "align": "left", "dx": 3, "fontSize": 6.3, "color": "#333333", "font": "DejaVu Sans"},
      "encoding": {
       "y": {"field": "feature", "type": "nominal", "sort": null, "scale": {"paddingInner": 0, "paddingOuter": 0.35, "align": 0.38}, "axis": {"orient": "right", "title": "p-value (corrected)"}},
       "x": {"datum": 5, "type": "quantitative", "scale": {"domain": [-1, 5], "nice": false, "zero": false}, "axis": {"values": [-1, 0, 1, 2, 3, 4, 5], "format": "d", "title": "Difference in mean proportions (%)"}},
       "text": {"field": "p", "type": "nominal"}}}
    ]
   }
  ]
   }
  ]
 },
 {
  "title": {"text": "(C)Order", "offset": 32.5},
  "spacing": 0,
  "resolve": {"scale": {"x": "independent", "y": "independent", "color": "independent"}, "legend": {"color": "independent"}, "axis": {"x": "independent", "y": "independent"}},
  "hconcat": [
   {"width": 1, "height": 1, "data": {"values": [{}]}, "mark": {"type": "rule", "opacity": 0}, "encoding": {}},
   {
  "spacing": 5,
  "resolve": {"scale": {"x": "independent", "y": "independent", "color": "independent"}, "legend": {"color": "independent"}, "axis": {"x": "independent", "y": "independent"}},
  "hconcat": [
   {
    "width": 71.5, "height": 98.3,
    "data": {"name": "bars"},
    "transform": [{"filter": "datum.panel == 'C'"}],
    "layer": [
     {"mark": {"type": "rect", "color": "#e5e5e5"},
      "encoding": {
       "y": {"field": "feature", "type": "nominal", "sort": null, "scale": {"paddingInner": 0, "paddingOuter": 0.35, "align": 0.38}, "axis": {"title": null}},
       "x": {"datum": 0, "type": "quantitative", "scale": {"domain": [0, 4.6], "nice": false}, "axis": {"values": [0, 4.6], "format": ".1f", "title": "Mean proportion (%)"}},
       "x2": {"datum": 4.6},
       "opacity": {"condition": {"test": "datum.rank % 2 == 0", "value": 1}, "value": 0}}},
     {"mark": {"type": "bar", "stroke": "#1f1f1f", "strokeWidth": 0.6, "clip": true},
      "encoding": {
       "y": {"field": "feature", "type": "nominal", "sort": null, "scale": {"paddingInner": 0, "paddingOuter": 0.35, "align": 0.38}, "axis": {"title": null}},
       "yOffset": {"field": "group", "type": "nominal", "scale": {"paddingInner": 0, "paddingOuter": 0.5}},
       "x": {"field": "mean", "type": "quantitative", "scale": {"domain": [0, 4.6], "nice": false}, "axis": {"values": [0, 4.6], "format": ".1f", "title": "Mean proportion (%)"}},
       "color": {"field": "group", "type": "nominal", "scale": {"domain": ["Placebo_W0", "Placebo_W12"], "range": ["#6ea3d8", "#f5a549"]}, "legend": {"title": null, "orient": "none", "direction": "horizontal", "legendX": -88.7, "legendY": -13.5}}}},
     {"mark": {"type": "rule", "color": "#262626", "strokeWidth": 0.7, "clip": true},
      "encoding": {
       "y": {"field": "feature", "type": "nominal", "sort": null, "scale": {"paddingInner": 0, "paddingOuter": 0.35, "align": 0.38}, "axis": {"title": null}},
       "yOffset": {"field": "group", "type": "nominal", "scale": {"paddingInner": 0, "paddingOuter": 0.5}},
       "x": {"field": "mean", "type": "quantitative", "scale": {"domain": [0, 4.6], "nice": false}, "axis": {"values": [0, 4.6], "format": ".1f", "title": "Mean proportion (%)"}},
       "x2": {"field": "upper"}}}
    ]
   },
   {
    "width": 348.6, "height": 98.3,
    "data": {"name": "ci"},
    "transform": [{"filter": "datum.panel == 'C'"}],
    "title": {"text": "95% confidence intervals", "font": "DejaVu Sans", "fontSize": 6.4, "fontWeight": "normal", "anchor": "middle", "frame": "group", "offset": 4, "dx": 0, "color": "#333333"},
    "layer": [
     {"mark": {"type": "rect", "color": "#e5e5e5"},
      "encoding": {
       "y": {"field": "feature", "type": "nominal", "sort": null, "scale": {"paddingInner": 0, "paddingOuter": 0.35, "align": 0.38}, "axis": {"orient": "right", "title": "p-value (corrected)"}},
       "x": {"datum": -1, "type": "quantitative", "scale": {"domain": [-1, 5], "nice": false, "zero": false}, "axis": {"values": [-1, 0, 1, 2, 3, 4, 5], "format": "d", "title": "Difference in mean proportions (%)"}},
       "x2": {"datum": 5},
       "opacity": {"condition": {"test": "datum.rank % 2 == 0", "value": 1}, "value": 0}}},
     {"mark": {"type": "rule", "color": "#a0a0a0", "strokeWidth": 0.7, "strokeDash": [2.5, 2.5]},
      "encoding": {
       "x": {"datum": 0, "type": "quantitative", "scale": {"domain": [-1, 5], "nice": false, "zero": false}, "axis": {"values": [-1, 0, 1, 2, 3, 4, 5], "format": "d", "title": "Difference in mean proportions (%)"}}}},
     {"mark": {"type": "rule", "color": "#333333", "strokeWidth": 0.8},
      "encoding": {
       "y": {"field": "feature", "type": "nominal", "sort": null, "scale": {"paddingInner": 0, "paddingOuter": 0.35, "align": 0.38}, "axis": {"orient": "right", "title": "p-value (corrected)"}},
       "x": {"field": "lo", "type": "quantitative", "scale": {"domain": [-1, 5], "nice": false, "zero": false}, "axis": {"values": [-1, 0, 1, 2, 3, 4, 5], "format": "d", "title": "Difference in mean proportions (%)"}},
       "x2": {"field": "hi"}}},
     {"mark": {"type": "tick", "color": "#333333", "thickness": 0.8, "size": 4.5},
      "encoding": {
       "y": {"field": "feature", "type": "nominal", "sort": null, "scale": {"paddingInner": 0, "paddingOuter": 0.35, "align": 0.38}, "axis": {"orient": "right", "title": "p-value (corrected)"}},
       "x": {"field": "lo", "type": "quantitative", "scale": {"domain": [-1, 5], "nice": false, "zero": false}, "axis": {"values": [-1, 0, 1, 2, 3, 4, 5], "format": "d", "title": "Difference in mean proportions (%)"}}}},
     {"mark": {"type": "tick", "color": "#333333", "thickness": 0.8, "size": 4.5},
      "encoding": {
       "y": {"field": "feature", "type": "nominal", "sort": null, "scale": {"paddingInner": 0, "paddingOuter": 0.35, "align": 0.38}, "axis": {"orient": "right", "title": "p-value (corrected)"}},
       "x": {"field": "hi", "type": "quantitative", "scale": {"domain": [-1, 5], "nice": false, "zero": false}, "axis": {"values": [-1, 0, 1, 2, 3, 4, 5], "format": "d", "title": "Difference in mean proportions (%)"}}}},
     {"mark": {"type": "circle", "size": 26, "stroke": "#555555", "strokeWidth": 0.6, "opacity": 1},
      "encoding": {
       "y": {"field": "feature", "type": "nominal", "sort": null, "scale": {"paddingInner": 0, "paddingOuter": 0.35, "align": 0.38}, "axis": {"orient": "right", "title": "p-value (corrected)"}},
       "x": {"field": "diff", "type": "quantitative", "scale": {"domain": [-1, 5], "nice": false, "zero": false}, "axis": {"values": [-1, 0, 1, 2, 3, 4, 5], "format": "d", "title": "Difference in mean proportions (%)"}},
       "color": {"field": "higher", "type": "nominal", "scale": {"domain": ["Placebo_W0", "Placebo_W12"], "range": ["#7db0df", "#f6a64d"]}, "legend": null}}},
     {"mark": {"type": "text", "align": "left", "dx": 3, "fontSize": 6.3, "color": "#333333", "font": "DejaVu Sans"},
      "encoding": {
       "y": {"field": "feature", "type": "nominal", "sort": null, "scale": {"paddingInner": 0, "paddingOuter": 0.35, "align": 0.38}, "axis": {"orient": "right", "title": "p-value (corrected)"}},
       "x": {"datum": 5, "type": "quantitative", "scale": {"domain": [-1, 5], "nice": false, "zero": false}, "axis": {"values": [-1, 0, 1, 2, 3, 4, 5], "format": "d", "title": "Difference in mean proportions (%)"}},
       "text": {"field": "p", "type": "nominal"}}}
    ]
   }
  ]
   }
  ]
 },
 {
  "title": {"text": "(D)Family", "offset": 31.5},
  "spacing": 0,
  "resolve": {"scale": {"x": "independent", "y": "independent", "color": "independent"}, "legend": {"color": "independent"}, "axis": {"x": "independent", "y": "independent"}},
  "hconcat": [
   {"width": 1, "height": 1, "data": {"values": [{}]}, "mark": {"type": "rule", "opacity": 0}, "encoding": {}},
   {
  "spacing": 2,
  "resolve": {"scale": {"x": "independent", "y": "independent", "color": "independent"}, "legend": {"color": "independent"}, "axis": {"x": "independent", "y": "independent"}},
  "hconcat": [
   {
    "width": 71.5, "height": 166.5,
    "data": {"name": "bars"},
    "transform": [{"filter": "datum.panel == 'D'"}],
    "layer": [
     {"mark": {"type": "rect", "color": "#e5e5e5"},
      "encoding": {
       "y": {"field": "feature", "type": "nominal", "sort": null, "scale": {"paddingInner": 0, "paddingOuter": 0.35, "align": 0.38}, "axis": {"title": null}},
       "x": {"datum": 0, "type": "quantitative", "scale": {"domain": [0, 0.3], "nice": false}, "axis": {"values": [0, 0.3], "format": ".1f", "title": "Mean proportion (%)"}},
       "x2": {"datum": 0.3},
       "opacity": {"condition": {"test": "datum.rank % 2 == 0", "value": 1}, "value": 0}}},
     {"mark": {"type": "bar", "stroke": "#1f1f1f", "strokeWidth": 0.6, "clip": true},
      "encoding": {
       "y": {"field": "feature", "type": "nominal", "sort": null, "scale": {"paddingInner": 0, "paddingOuter": 0.35, "align": 0.38}, "axis": {"title": null}},
       "yOffset": {"field": "group", "type": "nominal", "scale": {"paddingInner": 0, "paddingOuter": 0.5}},
       "x": {"field": "mean", "type": "quantitative", "scale": {"domain": [0, 0.3], "nice": false}, "axis": {"values": [0, 0.3], "format": ".1f", "title": "Mean proportion (%)"}},
       "color": {"field": "group", "type": "nominal", "scale": {"domain": ["Placebo_W0", "Placebo_W12"], "range": ["#6ea3d8", "#f5a549"]}, "legend": {"title": null, "orient": "none", "direction": "horizontal", "legendX": -67.7, "legendY": -15.5}}}},
     {"mark": {"type": "rule", "color": "#262626", "strokeWidth": 0.7, "clip": true},
      "encoding": {
       "y": {"field": "feature", "type": "nominal", "sort": null, "scale": {"paddingInner": 0, "paddingOuter": 0.35, "align": 0.38}, "axis": {"title": null}},
       "yOffset": {"field": "group", "type": "nominal", "scale": {"paddingInner": 0, "paddingOuter": 0.5}},
       "x": {"field": "mean", "type": "quantitative", "scale": {"domain": [0, 0.3], "nice": false}, "axis": {"values": [0, 0.3], "format": ".1f", "title": "Mean proportion (%)"}},
       "x2": {"field": "upper"}}}
    ]
   },
   {
    "width": 369.2, "height": 166.5,
    "data": {"name": "ci"},
    "transform": [{"filter": "datum.panel == 'D'"}],
    "title": {"text": "95% confidence intervals", "font": "DejaVu Sans", "fontSize": 6.4, "fontWeight": "normal", "anchor": "middle", "frame": "group", "offset": 6, "dx": 0, "color": "#333333"},
    "layer": [
     {"mark": {"type": "rect", "color": "#e5e5e5"},
      "encoding": {
       "y": {"field": "feature", "type": "nominal", "sort": null, "scale": {"paddingInner": 0, "paddingOuter": 0.35, "align": 0.38}, "axis": {"orient": "right", "title": "p-value (corrected)"}},
       "x": {"datum": -0.1, "type": "quantitative", "scale": {"domain": [-0.1, 0.6], "nice": false, "zero": false}, "axis": {"values": [-0.1, 0, 0.1, 0.2, 0.3, 0.4, 0.5, 0.6], "format": ".1f", "title": "Difference in mean proportions (%)"}},
       "x2": {"datum": 0.6},
       "opacity": {"condition": {"test": "datum.rank % 2 == 0", "value": 1}, "value": 0}}},
     {"mark": {"type": "rule", "color": "#a0a0a0", "strokeWidth": 0.7, "strokeDash": [2.5, 2.5]},
      "encoding": {
       "x": {"datum": 0, "type": "quantitative", "scale": {"domain": [-0.1, 0.6], "nice": false, "zero": false}, "axis": {"values": [-0.1, 0, 0.1, 0.2, 0.3, 0.4, 0.5, 0.6], "format": ".1f", "title": "Difference in mean proportions (%)"}}}},
     {"mark": {"type": "rule", "color": "#333333", "strokeWidth": 0.8},
      "encoding": {
       "y": {"field": "feature", "type": "nominal", "sort": null, "scale": {"paddingInner": 0, "paddingOuter": 0.35, "align": 0.38}, "axis": {"orient": "right", "title": "p-value (corrected)"}},
       "x": {"field": "lo", "type": "quantitative", "scale": {"domain": [-0.1, 0.6], "nice": false, "zero": false}, "axis": {"values": [-0.1, 0, 0.1, 0.2, 0.3, 0.4, 0.5, 0.6], "format": ".1f", "title": "Difference in mean proportions (%)"}},
       "x2": {"field": "hi"}}},
     {"mark": {"type": "tick", "color": "#333333", "thickness": 0.8, "size": 4.5},
      "encoding": {
       "y": {"field": "feature", "type": "nominal", "sort": null, "scale": {"paddingInner": 0, "paddingOuter": 0.35, "align": 0.38}, "axis": {"orient": "right", "title": "p-value (corrected)"}},
       "x": {"field": "lo", "type": "quantitative", "scale": {"domain": [-0.1, 0.6], "nice": false, "zero": false}, "axis": {"values": [-0.1, 0, 0.1, 0.2, 0.3, 0.4, 0.5, 0.6], "format": ".1f", "title": "Difference in mean proportions (%)"}}}},
     {"mark": {"type": "tick", "color": "#333333", "thickness": 0.8, "size": 4.5},
      "encoding": {
       "y": {"field": "feature", "type": "nominal", "sort": null, "scale": {"paddingInner": 0, "paddingOuter": 0.35, "align": 0.38}, "axis": {"orient": "right", "title": "p-value (corrected)"}},
       "x": {"field": "hi", "type": "quantitative", "scale": {"domain": [-0.1, 0.6], "nice": false, "zero": false}, "axis": {"values": [-0.1, 0, 0.1, 0.2, 0.3, 0.4, 0.5, 0.6], "format": ".1f", "title": "Difference in mean proportions (%)"}}}},
     {"mark": {"type": "circle", "size": 26, "stroke": "#555555", "strokeWidth": 0.6, "opacity": 1},
      "encoding": {
       "y": {"field": "feature", "type": "nominal", "sort": null, "scale": {"paddingInner": 0, "paddingOuter": 0.35, "align": 0.38}, "axis": {"orient": "right", "title": "p-value (corrected)"}},
       "x": {"field": "diff", "type": "quantitative", "scale": {"domain": [-0.1, 0.6], "nice": false, "zero": false}, "axis": {"values": [-0.1, 0, 0.1, 0.2, 0.3, 0.4, 0.5, 0.6], "format": ".1f", "title": "Difference in mean proportions (%)"}},
       "color": {"field": "higher", "type": "nominal", "scale": {"domain": ["Placebo_W0", "Placebo_W12"], "range": ["#7db0df", "#f6a64d"]}, "legend": null}}},
     {"mark": {"type": "text", "align": "left", "dx": 3, "fontSize": 6.3, "color": "#333333", "font": "DejaVu Sans"},
      "encoding": {
       "y": {"field": "feature", "type": "nominal", "sort": null, "scale": {"paddingInner": 0, "paddingOuter": 0.35, "align": 0.38}, "axis": {"orient": "right", "title": "p-value (corrected)"}},
       "x": {"datum": 0.6, "type": "quantitative", "scale": {"domain": [-0.1, 0.6], "nice": false, "zero": false}, "axis": {"values": [-0.1, 0, 0.1, 0.2, 0.3, 0.4, 0.5, 0.6], "format": ".1f", "title": "Difference in mean proportions (%)"}},
       "text": {"field": "p", "type": "nominal"}}}
    ]
   }
  ]
   }
  ]
 },
 {
  "title": {"text": "(E)Genus", "offset": 31.5},
  "spacing": 0,
  "resolve": {"scale": {"x": "independent", "y": "independent", "color": "independent"}, "legend": {"color": "independent"}, "axis": {"x": "independent", "y": "independent"}},
  "hconcat": [
   {"width": 1, "height": 1, "data": {"values": [{}]}, "mark": {"type": "rule", "opacity": 0}, "encoding": {}},
   {
  "spacing": 2,
  "resolve": {"scale": {"x": "independent", "y": "independent", "color": "independent"}, "legend": {"color": "independent"}, "axis": {"x": "independent", "y": "independent"}},
  "hconcat": [
   {
    "width": 71.5, "height": 337,
    "data": {"name": "bars"},
    "transform": [{"filter": "datum.panel == 'E'"}],
    "layer": [
     {"mark": {"type": "rect", "color": "#e5e5e5"},
      "encoding": {
       "y": {"field": "feature", "type": "nominal", "sort": null, "scale": {"paddingInner": 0, "paddingOuter": 0.35, "align": 0.38}, "axis": {"title": null}},
       "x": {"datum": 0, "type": "quantitative", "scale": {"domain": [0, 0.6], "nice": false}, "axis": {"values": [0, 0.6], "format": ".1f", "title": "Mean proportion (%)"}},
       "x2": {"datum": 0.6},
       "opacity": {"condition": {"test": "datum.rank % 2 == 0", "value": 1}, "value": 0}}},
     {"mark": {"type": "bar", "stroke": "#1f1f1f", "strokeWidth": 0.6, "clip": true},
      "encoding": {
       "y": {"field": "feature", "type": "nominal", "sort": null, "scale": {"paddingInner": 0, "paddingOuter": 0.35, "align": 0.38}, "axis": {"title": null}},
       "yOffset": {"field": "group", "type": "nominal", "scale": {"paddingInner": 0, "paddingOuter": 0.5}},
       "x": {"field": "mean", "type": "quantitative", "scale": {"domain": [0, 0.6], "nice": false}, "axis": {"values": [0, 0.6], "format": ".1f", "title": "Mean proportion (%)"}},
       "color": {"field": "group", "type": "nominal", "scale": {"domain": ["Placebo_W0", "Placebo_W12"], "range": ["#6ea3d8", "#f5a549"]}, "legend": {"title": null, "orient": "none", "direction": "horizontal", "legendX": -103.7, "legendY": -15.5}}}},
     {"mark": {"type": "rule", "color": "#262626", "strokeWidth": 0.7, "clip": true},
      "encoding": {
       "y": {"field": "feature", "type": "nominal", "sort": null, "scale": {"paddingInner": 0, "paddingOuter": 0.35, "align": 0.38}, "axis": {"title": null}},
       "yOffset": {"field": "group", "type": "nominal", "scale": {"paddingInner": 0, "paddingOuter": 0.5}},
       "x": {"field": "mean", "type": "quantitative", "scale": {"domain": [0, 0.6], "nice": false}, "axis": {"values": [0, 0.6], "format": ".1f", "title": "Mean proportion (%)"}},
       "x2": {"field": "upper"}}}
    ]
   },
   {
    "width": 333.9, "height": 337,
    "data": {"name": "ci"},
    "transform": [{"filter": "datum.panel == 'E'"}],
    "title": {"text": "95% confidence intervals", "font": "DejaVu Sans", "fontSize": 6.4, "fontWeight": "normal", "anchor": "middle", "frame": "group", "offset": 6, "dx": 0, "color": "#333333"},
    "layer": [
     {"mark": {"type": "rect", "color": "#e5e5e5"},
      "encoding": {
       "y": {"field": "feature", "type": "nominal", "sort": null, "scale": {"paddingInner": 0, "paddingOuter": 0.35, "align": 0.38}, "axis": {"orient": "right", "title": "p-value (corrected)"}},
       "x": {"datum": -1, "type": "quantitative", "scale": {"domain": [-1, 0.4], "nice": false, "zero": false}, "axis": {"values": [-1, -0.8, -0.6, -0.4, -0.2, 0, 0.2, 0.4], "format": ".1f", "title": "Difference in mean proportions (%)"}},
       "x2": {"datum": 0.4},
       "opacity": {"condition": {"test": "datum.rank % 2 == 0", "value": 1}, "value": 0}}},
     {"mark": {"type": "rule", "color": "#a0a0a0", "strokeWidth": 0.7, "strokeDash": [2.5, 2.5]},
      "encoding": {
       "x": {"datum": 0, "type": "quantitative", "scale": {"domain": [-1, 0.4], "nice": false, "zero": false}, "axis": {"values": [-1, -0.8, -0.6, -0.4, -0.2, 0, 0.2, 0.4], "format": ".1f", "title": "Difference in mean proportions (%)"}}}},
     {"mark": {"type": "rule", "color": "#333333", "strokeWidth": 0.8},
      "encoding": {
       "y": {"field": "feature", "type": "nominal", "sort": null, "scale": {"paddingInner": 0, "paddingOuter": 0.35, "align": 0.38}, "axis": {"orient": "right", "title": "p-value (corrected)"}},
       "x": {"field": "lo", "type": "quantitative", "scale": {"domain": [-1, 0.4], "nice": false, "zero": false}, "axis": {"values": [-1, -0.8, -0.6, -0.4, -0.2, 0, 0.2, 0.4], "format": ".1f", "title": "Difference in mean proportions (%)"}},
       "x2": {"field": "hi"}}},
     {"mark": {"type": "tick", "color": "#333333", "thickness": 0.8, "size": 4.5},
      "encoding": {
       "y": {"field": "feature", "type": "nominal", "sort": null, "scale": {"paddingInner": 0, "paddingOuter": 0.35, "align": 0.38}, "axis": {"orient": "right", "title": "p-value (corrected)"}},
       "x": {"field": "lo", "type": "quantitative", "scale": {"domain": [-1, 0.4], "nice": false, "zero": false}, "axis": {"values": [-1, -0.8, -0.6, -0.4, -0.2, 0, 0.2, 0.4], "format": ".1f", "title": "Difference in mean proportions (%)"}}}},
     {"mark": {"type": "tick", "color": "#333333", "thickness": 0.8, "size": 4.5},
      "encoding": {
       "y": {"field": "feature", "type": "nominal", "sort": null, "scale": {"paddingInner": 0, "paddingOuter": 0.35, "align": 0.38}, "axis": {"orient": "right", "title": "p-value (corrected)"}},
       "x": {"field": "hi", "type": "quantitative", "scale": {"domain": [-1, 0.4], "nice": false, "zero": false}, "axis": {"values": [-1, -0.8, -0.6, -0.4, -0.2, 0, 0.2, 0.4], "format": ".1f", "title": "Difference in mean proportions (%)"}}}},
     {"mark": {"type": "circle", "size": 26, "stroke": "#555555", "strokeWidth": 0.6, "opacity": 1},
      "encoding": {
       "y": {"field": "feature", "type": "nominal", "sort": null, "scale": {"paddingInner": 0, "paddingOuter": 0.35, "align": 0.38}, "axis": {"orient": "right", "title": "p-value (corrected)"}},
       "x": {"field": "diff", "type": "quantitative", "scale": {"domain": [-1, 0.4], "nice": false, "zero": false}, "axis": {"values": [-1, -0.8, -0.6, -0.4, -0.2, 0, 0.2, 0.4], "format": ".1f", "title": "Difference in mean proportions (%)"}},
       "color": {"field": "higher", "type": "nominal", "scale": {"domain": ["Placebo_W0", "Placebo_W12"], "range": ["#7db0df", "#f6a64d"]}, "legend": null}}},
     {"mark": {"type": "text", "align": "left", "dx": 3, "fontSize": 6.3, "color": "#333333", "font": "DejaVu Sans"},
      "encoding": {
       "y": {"field": "feature", "type": "nominal", "sort": null, "scale": {"paddingInner": 0, "paddingOuter": 0.35, "align": 0.38}, "axis": {"orient": "right", "title": "p-value (corrected)"}},
       "x": {"datum": 0.4, "type": "quantitative", "scale": {"domain": [-1, 0.4], "nice": false, "zero": false}, "axis": {"values": [-1, -0.8, -0.6, -0.4, -0.2, 0, 0.2, 0.4], "format": ".1f", "title": "Difference in mean proportions (%)"}},
       "text": {"field": "p", "type": "nominal"}}}
    ]
   }
  ]
   }
  ]
 },
 {
  "title": {"text": "(F)Species", "offset": 30.5},
  "spacing": 0,
  "resolve": {"scale": {"x": "independent", "y": "independent", "color": "independent"}, "legend": {"color": "independent"}, "axis": {"x": "independent", "y": "independent"}},
  "hconcat": [
   {"width": 1, "height": 1, "data": {"values": [{}]}, "mark": {"type": "rule", "opacity": 0}, "encoding": {}},
   {
  "spacing": 1.7,
  "resolve": {"scale": {"x": "independent", "y": "independent", "color": "independent"}, "legend": {"color": "independent"}, "axis": {"x": "independent", "y": "independent"}},
  "hconcat": [
   {
    "width": 71.5, "height": 339.5,
    "data": {"name": "bars"},
    "transform": [{"filter": "datum.panel == 'F'"}],
    "layer": [
     {"mark": {"type": "rect", "color": "#e5e5e5"},
      "encoding": {
       "y": {"field": "feature", "type": "nominal", "sort": null, "scale": {"paddingInner": 0, "paddingOuter": 0.35, "align": 0.38}, "axis": {"title": null}},
       "x": {"datum": 0, "type": "quantitative", "scale": {"domain": [0, 0.3], "nice": false}, "axis": {"values": [0, 0.3], "format": ".1f", "title": "Mean proportion (%)"}},
       "x2": {"datum": 0.3},
       "opacity": {"condition": {"test": "datum.rank % 2 == 0", "value": 1}, "value": 0}}},
     {"mark": {"type": "bar", "stroke": "#1f1f1f", "strokeWidth": 0.6, "clip": true},
      "encoding": {
       "y": {"field": "feature", "type": "nominal", "sort": null, "scale": {"paddingInner": 0, "paddingOuter": 0.35, "align": 0.38}, "axis": {"title": null}},
       "yOffset": {"field": "group", "type": "nominal", "scale": {"paddingInner": 0, "paddingOuter": 0.5}},
       "x": {"field": "mean", "type": "quantitative", "scale": {"domain": [0, 0.3], "nice": false}, "axis": {"values": [0, 0.3], "format": ".1f", "title": "Mean proportion (%)"}},
       "color": {"field": "group", "type": "nominal", "scale": {"domain": ["Placebo_W0", "Placebo_W12"], "range": ["#6ea3d8", "#f5a549"]}, "legend": {"title": null, "orient": "none", "direction": "horizontal", "legendX": -137, "legendY": -15.5}}}},
     {"mark": {"type": "rule", "color": "#262626", "strokeWidth": 0.7, "clip": true},
      "encoding": {
       "y": {"field": "feature", "type": "nominal", "sort": null, "scale": {"paddingInner": 0, "paddingOuter": 0.35, "align": 0.38}, "axis": {"title": null}},
       "yOffset": {"field": "group", "type": "nominal", "scale": {"paddingInner": 0, "paddingOuter": 0.5}},
       "x": {"field": "mean", "type": "quantitative", "scale": {"domain": [0, 0.3], "nice": false}, "axis": {"values": [0, 0.3], "format": ".1f", "title": "Mean proportion (%)"}},
       "x2": {"field": "upper"}}}
    ]
   },
   {
    "width": 300.7, "height": 339.5,
    "data": {"name": "ci"},
    "transform": [{"filter": "datum.panel == 'F'"}],
    "title": {"text": "95% confidence intervals", "font": "DejaVu Sans", "fontSize": 6.4, "fontWeight": "normal", "anchor": "middle", "frame": "group", "offset": 6, "dx": 0, "color": "#333333"},
    "layer": [
     {"mark": {"type": "rect", "color": "#e5e5e5"},
      "encoding": {
       "y": {"field": "feature", "type": "nominal", "sort": null, "scale": {"paddingInner": 0, "paddingOuter": 0.35, "align": 0.38}, "axis": {"orient": "right", "title": "p-value (corrected)"}},
       "x": {"datum": -0.6, "type": "quantitative", "scale": {"domain": [-0.6, 0.6], "nice": false, "zero": false}, "axis": {"values": [-0.6, -0.4, -0.2, 0, 0.2, 0.4, 0.6], "format": ".1f", "title": "Difference in mean proportions (%)"}},
       "x2": {"datum": 0.6},
       "opacity": {"condition": {"test": "datum.rank % 2 == 0", "value": 1}, "value": 0}}},
     {"mark": {"type": "rule", "color": "#a0a0a0", "strokeWidth": 0.7, "strokeDash": [2.5, 2.5]},
      "encoding": {
       "x": {"datum": 0, "type": "quantitative", "scale": {"domain": [-0.6, 0.6], "nice": false, "zero": false}, "axis": {"values": [-0.6, -0.4, -0.2, 0, 0.2, 0.4, 0.6], "format": ".1f", "title": "Difference in mean proportions (%)"}}}},
     {"mark": {"type": "rule", "color": "#333333", "strokeWidth": 0.8},
      "encoding": {
       "y": {"field": "feature", "type": "nominal", "sort": null, "scale": {"paddingInner": 0, "paddingOuter": 0.35, "align": 0.38}, "axis": {"orient": "right", "title": "p-value (corrected)"}},
       "x": {"field": "lo", "type": "quantitative", "scale": {"domain": [-0.6, 0.6], "nice": false, "zero": false}, "axis": {"values": [-0.6, -0.4, -0.2, 0, 0.2, 0.4, 0.6], "format": ".1f", "title": "Difference in mean proportions (%)"}},
       "x2": {"field": "hi"}}},
     {"mark": {"type": "tick", "color": "#333333", "thickness": 0.8, "size": 4.5},
      "encoding": {
       "y": {"field": "feature", "type": "nominal", "sort": null, "scale": {"paddingInner": 0, "paddingOuter": 0.35, "align": 0.38}, "axis": {"orient": "right", "title": "p-value (corrected)"}},
       "x": {"field": "lo", "type": "quantitative", "scale": {"domain": [-0.6, 0.6], "nice": false, "zero": false}, "axis": {"values": [-0.6, -0.4, -0.2, 0, 0.2, 0.4, 0.6], "format": ".1f", "title": "Difference in mean proportions (%)"}}}},
     {"mark": {"type": "tick", "color": "#333333", "thickness": 0.8, "size": 4.5},
      "encoding": {
       "y": {"field": "feature", "type": "nominal", "sort": null, "scale": {"paddingInner": 0, "paddingOuter": 0.35, "align": 0.38}, "axis": {"orient": "right", "title": "p-value (corrected)"}},
       "x": {"field": "hi", "type": "quantitative", "scale": {"domain": [-0.6, 0.6], "nice": false, "zero": false}, "axis": {"values": [-0.6, -0.4, -0.2, 0, 0.2, 0.4, 0.6], "format": ".1f", "title": "Difference in mean proportions (%)"}}}},
     {"mark": {"type": "circle", "size": 26, "stroke": "#555555", "strokeWidth": 0.6, "opacity": 1},
      "encoding": {
       "y": {"field": "feature", "type": "nominal", "sort": null, "scale": {"paddingInner": 0, "paddingOuter": 0.35, "align": 0.38}, "axis": {"orient": "right", "title": "p-value (corrected)"}},
       "x": {"field": "diff", "type": "quantitative", "scale": {"domain": [-0.6, 0.6], "nice": false, "zero": false}, "axis": {"values": [-0.6, -0.4, -0.2, 0, 0.2, 0.4, 0.6], "format": ".1f", "title": "Difference in mean proportions (%)"}},
       "color": {"field": "higher", "type": "nominal", "scale": {"domain": ["Placebo_W0", "Placebo_W12"], "range": ["#7db0df", "#f6a64d"]}, "legend": null}}},
     {"mark": {"type": "text", "align": "left", "dx": 3, "fontSize": 6.3, "color": "#333333", "font": "DejaVu Sans"},
      "encoding": {
       "y": {"field": "feature", "type": "nominal", "sort": null, "scale": {"paddingInner": 0, "paddingOuter": 0.35, "align": 0.38}, "axis": {"orient": "right", "title": "p-value (corrected)"}},
       "x": {"datum": 0.6, "type": "quantitative", "scale": {"domain": [-0.6, 0.6], "nice": false, "zero": false}, "axis": {"values": [-0.6, -0.4, -0.2, 0, 0.2, 0.4, 0.6], "format": ".1f", "title": "Difference in mean proportions (%)"}},
       "text": {"field": "p", "type": "nominal"}}}
    ]
   }
  ]
   }
  ]
 }
]
}
